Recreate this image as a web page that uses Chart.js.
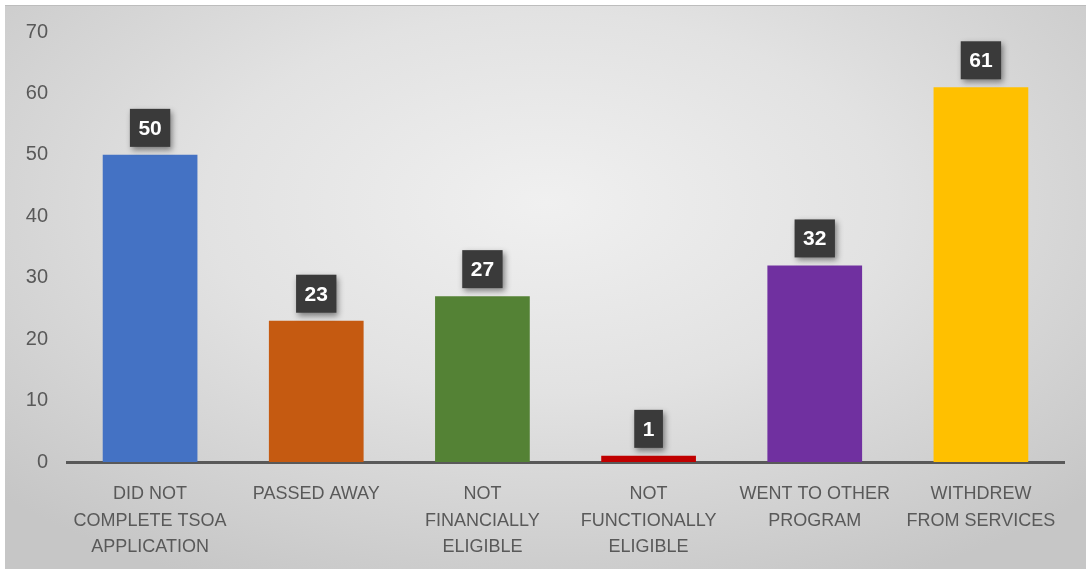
<!DOCTYPE html>
<html>
<head>
<meta charset="utf-8">
<script src="https://cdn.jsdelivr.net/npm/chart.js@4/dist/chart.umd.min.js"></script>
<style>
  html, body { margin: 0; padding: 0; background: #ffffff; }
  #frame {
    position: absolute; left: 5px; top: 5px; width: 1081px; height: 563px;
    border-top: 1px solid #bdbdbd;
    background: radial-gradient(ellipse 70% 75% at 50% 35%, #f0f0f0 0%, #e2e2e2 45%, #c6c6c6 100%);
  }
  #wrap { position: absolute; left: 0; top: 0; width: 1086px; height: 571px; }
</style>
</head>
<body>
<div id="frame"></div>
<div id="wrap"><canvas id="chart" width="1086" height="571"></canvas></div>
<script>
// categories and values
const categories = [
  ['DID NOT', 'COMPLETE TSOA', 'APPLICATION'],
  'PASSED AWAY',
  ['NOT', 'FINANCIALLY', 'ELIGIBLE'],
  ['NOT', 'FUNCTIONALLY', 'ELIGIBLE'],
  ['WENT TO OTHER', 'PROGRAM'],
  ['WITHDREW', 'FROM SERVICES'],
];
const counts = [50, 23, 27, 1, 32, 61];
const barColors = ['#4472C4', '#C55A11', '#548235', '#C00000', '#7030A0', '#FFC000'];
const yTicks = [0, 10, 20, 30, 40, 50, 60, 70];

// dark boxed value labels above the bars
const boxLabels = {
  id: 'boxLabels',
  afterDatasetsDraw(chart) {
    const ctx = chart.ctx;
    const meta = chart.getDatasetMeta(0);
    ctx.save();
    ctx.font = 'bold 21px "Liberation Sans", Arial, sans-serif';
    ctx.textAlign = 'center';
    ctx.textBaseline = 'middle';
    meta.data.forEach((bar, i) => {
      const text = String(counts[i]);
      const w = ctx.measureText(text).width + 17;
      const h = 38;
      const x = bar.x - w / 2;
      const y = bar.y - 8 - h;
      ctx.shadowColor = 'rgba(0,0,0,0.45)';
      ctx.shadowBlur = 6;
      ctx.shadowOffsetX = 2;
      ctx.shadowOffsetY = 3;
      ctx.fillStyle = '#3a3a3a';
      ctx.fillRect(x, y, w, h);
      ctx.shadowColor = 'transparent';
      ctx.fillStyle = '#ffffff';
      ctx.fillText(text, bar.x, y + h / 2 + 1);
    });
    ctx.restore();
  }
};

new Chart(document.getElementById('chart'), {
  type: 'bar',
  data: {
    labels: categories,
    datasets: [{
      data: counts,
      backgroundColor: barColors,
      borderWidth: 0,
      categoryPercentage: 1,
      barPercentage: 0.57,
    }],
  },
  options: {
    responsive: false,
    animation: false,
    layout: { padding: { left: 5, right: 22, top: 32, bottom: 5 } },
    plugins: {
      legend: { display: false },
      tooltip: { enabled: false },
    },
    scales: {
      x: {
        grid: { display: false, drawTicks: false },
        border: { display: true, color: '#595959', width: 3 },
        ticks: {
          color: '#595959',
          padding: 19,
          maxRotation: 0,
          autoSkip: false,
          font: { family: '"Liberation Sans", Arial, sans-serif', size: 18, lineHeight: 1.47 },
        },
        afterFit: s => { s.height = 104; },
      },
      y: {
        min: 0,
        max: 70,
        afterBuildTicks: s => { s.ticks = yTicks.map(v => ({ value: v })); },
        grid: { display: false, drawTicks: false },
        border: { display: false },
        ticks: {
          color: '#595959',
          padding: 19,
          font: { family: '"Liberation Sans", Arial, sans-serif', size: 20 },
        },
        afterFit: s => { s.width = 62; },
      },
    },
  },
  plugins: [boxLabels],
});
</script>
</body>
</html>
